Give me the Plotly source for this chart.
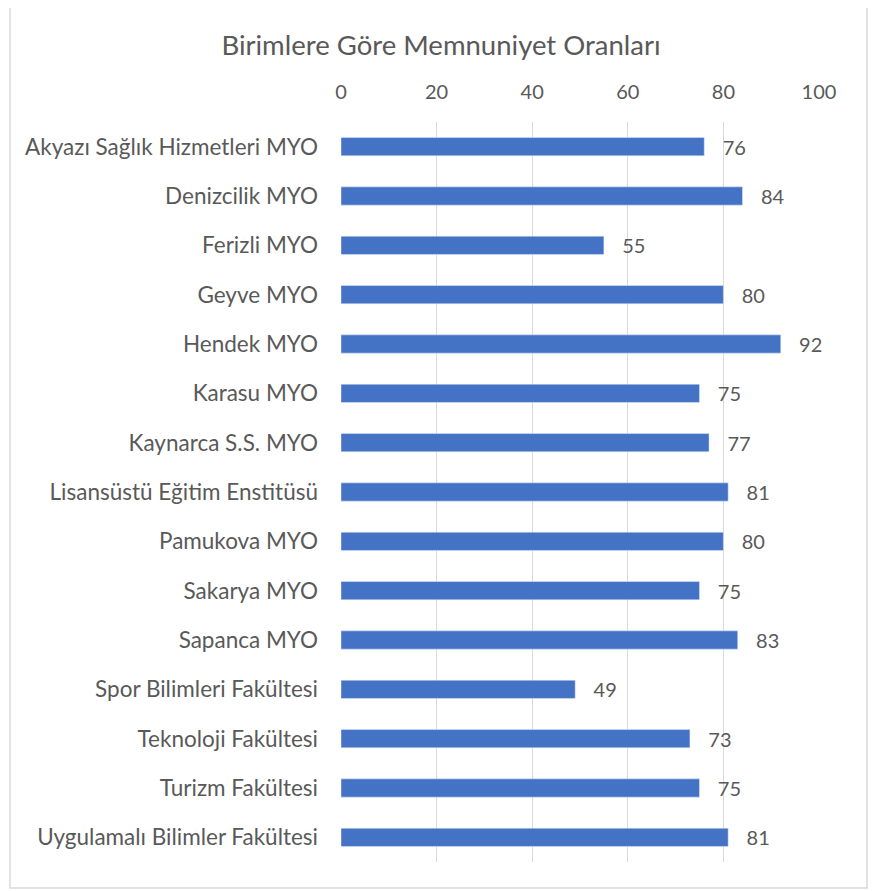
import plotly.graph_objects as go

categories = ["Akyazı Sağlık Hizmetleri MYO", "Denizcilik MYO", "Ferizli MYO", "Geyve MYO",
              "Hendek MYO", "Karasu MYO", "Kaynarca S.S. MYO", "Lisansüstü Eğitim Enstitüsü",
              "Pamukova MYO", "Sakarya MYO", "Sapanca MYO", "Spor Bilimleri Fakültesi",
              "Teknoloji Fakültesi", "Turizm Fakültesi", "Uygulamalı Bilimler Fakültesi"]
values = [76, 84, 55, 80, 92, 75, 77, 81, 80, 75, 83, 49, 73, 75, 81]
tick_vals = [0, 20, 40, 60, 80, 100]

FONT = "Lato, Open Sans, sans-serif"
GRAY = "#595959"

# page body has an 8px margin; work in figure coordinates = page - 8
OFF = 8
W, H = 877 - OFF, 891 - OFF
L = 341 - OFF
R = W - (819 - OFF)
T = 122 - OFF
B = H - (862 - OFF)
pw = W - L - R
ph = H - T - B

fig = go.Figure(go.Bar(
    x=values, y=categories, orientation="h",
    marker_color="#4472C4",
    text=["   " + str(v) for v in values], textposition="outside",
    textfont=dict(size=20, color=GRAY, family=FONT),
    constraintext="none",
    cliponaxis=False,
))

fig.update_layout(
    width=W, height=H,
    margin=dict(l=L, r=R, t=T, b=B),
    paper_bgcolor="white", plot_bgcolor="white",
    bargap=0.63,
    showlegend=False,
    title=dict(text="Birimlere Göre Memnuniyet Oranları", x=(441 - OFF) / W, xanchor="center",
               y=1 - (45 - OFF) / H, yanchor="middle",
               font=dict(size=27.5, color=GRAY, family=FONT)),
    xaxis=dict(side="top", range=[0, 100], tickvals=tick_vals, showgrid=True,
               gridcolor="#D9D9D9", gridwidth=1, zeroline=False, showline=False,
               tickfont=dict(size=20, color=GRAY, family=FONT), ticklabelstandoff=18),
    yaxis=dict(autorange="reversed", showgrid=False, showline=False, zeroline=False,
               tickfont=dict(size=22.5, color=GRAY, family=FONT), ticklabelstandoff=22),
    shapes=[dict(type="rect", xref="paper", yref="paper",
                 x0=(10 - 341) / pw, x1=(867 - 341) / pw,
                 y0=(862 - 888) / ph, y1=(862 - 3) / ph,
                 line=dict(color="#D9D9D9", width=1.5), fillcolor="rgba(0,0,0,0)",
                 layer="below")],
)

fig.write_html("out.html")
